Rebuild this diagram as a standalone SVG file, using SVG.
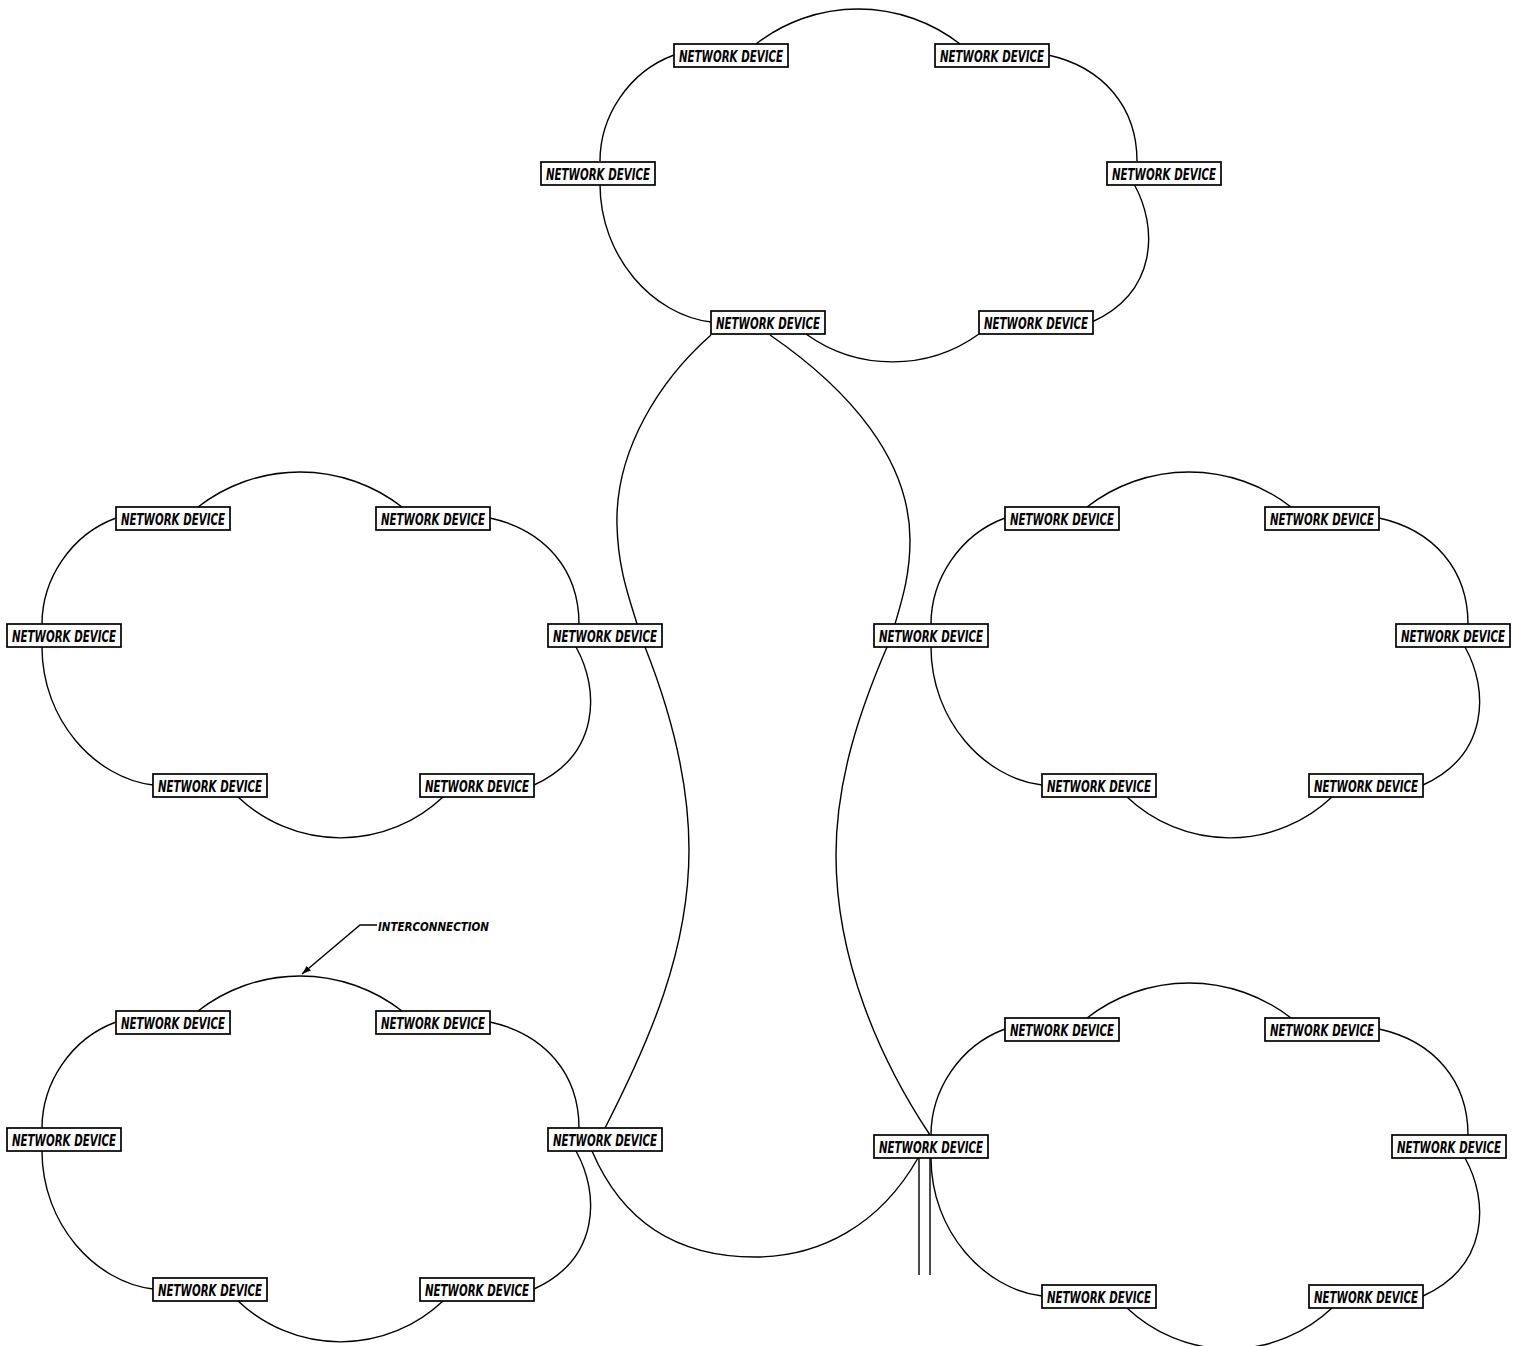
<svg xmlns="http://www.w3.org/2000/svg" xmlns:xlink="http://www.w3.org/1999/xlink" width="1517" height="1346" viewBox="0 0 1517 1346">
  <defs>
    <style>
      .ring { fill: none; stroke: #000; stroke-width: 1.4; }
      .box rect { fill: #fff; stroke: #000; stroke-width: 1.7; }
      .box text { font-family: "Liberation Sans Narrow", "DejaVu Sans Condensed", "Liberation Sans", sans-serif; font-size: 15px; font-style: italic; font-weight: bold; text-anchor: middle; fill: #000; }
      .callout { font-family: "Liberation Sans Narrow", "DejaVu Sans Condensed", "Liberation Sans", sans-serif; font-size: 13px; font-style: italic; font-weight: bold; fill: #000; }
    </style>
    <marker id="arrow" viewBox="0 0 10 10" refX="10" refY="5" markerWidth="9" markerHeight="9" markerUnits="userSpaceOnUse" orient="auto">
      <path d="M0,1.5 L10,5 L0,8.5 z" fill="#000"/>
    </marker>
    <!-- ring of six devices: side and top arcs (bottom arc drawn per ring) -->
    <path id="ring-arcs" d="M198,507 A166,166 0 0 1 402,507
      M490,518 C545,530 579,570 579,624
      M576,647 C600,690 600,755 534,785
      M153,785 C95,778 42,720 42,647
      M42,624 C42,580 70,535 116,518"/>
    <path id="ring-bottom" d="M443,797 A149,149 0 0 1 238,797"/>
  </defs>

  <rect width="1517" height="1346" fill="#fff"/>

  <!-- connectors: ring links and inter-ring links -->
  <g id="connectors" class="ring">
    <!-- top ring -->
    <use xlink:href="#ring-arcs" href="#ring-arcs" transform="translate(558,-463)"/>
    <path d="M979,334 A148,148 0 0 1 806,334"/>
    <!-- middle left ring -->
    <use xlink:href="#ring-arcs" href="#ring-arcs"/>
    <use xlink:href="#ring-bottom" href="#ring-bottom"/>
    <!-- middle right ring -->
    <use xlink:href="#ring-arcs" href="#ring-arcs" transform="translate(889,0)"/>
    <use xlink:href="#ring-bottom" href="#ring-bottom" transform="translate(889,0)"/>
    <!-- lower left ring -->
    <use xlink:href="#ring-arcs" href="#ring-arcs" transform="translate(0,504)"/>
    <use xlink:href="#ring-bottom" href="#ring-bottom" transform="translate(0,504)"/>
    <!-- lower right ring -->
    <use xlink:href="#ring-arcs" href="#ring-arcs" transform="translate(889,511)"/>
    <use xlink:href="#ring-bottom" href="#ring-bottom" transform="translate(889,511)"/>

    <!-- inter-ring links -->
    <path d="M711,335 C660,380 615,450 617,525 C618,570 630,600 637,624"/>
    <path d="M645,647 C670,710 689,780 689,850 C689,950 650,1040 605,1128"/>
    <path d="M770,335 C850,390 910,460 910,540 C910,575 902,600 895,624"/>
    <path d="M887,647 C860,710 836,780 836,855 C836,960 880,1060 930,1135"/>
    <path d="M592,1151 C630,1240 700,1257 755,1257 C820,1257 880,1225 918,1158"/>
    <path d="M919,1158 V1275 M930,1158 V1275"/>

    <!-- callout leader -->
    <path d="M377,925 H360 L302,974" marker-end="url(#arrow)"/>
  </g>
  <text class="callout" x="378" y="931" textLength="111" lengthAdjust="spacingAndGlyphs">INTERCONNECTION</text>

  <!-- top ring devices -->
  <g id="t1" class="box" transform="translate(674,44)"><rect width="114" height="23"/><text x="57" y="18" textLength="104" lengthAdjust="spacingAndGlyphs">NETWORK DEVICE</text></g>
  <g id="t2" class="box" transform="translate(935,44)"><rect width="114" height="23"/><text x="57" y="18" textLength="104" lengthAdjust="spacingAndGlyphs">NETWORK DEVICE</text></g>
  <g id="t3" class="box" transform="translate(541,162)"><rect width="114" height="23"/><text x="57" y="18" textLength="104" lengthAdjust="spacingAndGlyphs">NETWORK DEVICE</text></g>
  <g id="t4" class="box" transform="translate(1107,162)"><rect width="114" height="23"/><text x="57" y="18" textLength="104" lengthAdjust="spacingAndGlyphs">NETWORK DEVICE</text></g>
  <g id="t5" class="box" transform="translate(711,311)"><rect width="114" height="23"/><text x="57" y="18" textLength="104" lengthAdjust="spacingAndGlyphs">NETWORK DEVICE</text></g>
  <g id="t6" class="box" transform="translate(979,311)"><rect width="114" height="23"/><text x="57" y="18" textLength="104" lengthAdjust="spacingAndGlyphs">NETWORK DEVICE</text></g>

  <!-- middle left ring devices -->
  <g id="a1" class="box" transform="translate(116,507)"><rect width="114" height="23"/><text x="57" y="18" textLength="104" lengthAdjust="spacingAndGlyphs">NETWORK DEVICE</text></g>
  <g id="a2" class="box" transform="translate(376,507)"><rect width="114" height="23"/><text x="57" y="18" textLength="104" lengthAdjust="spacingAndGlyphs">NETWORK DEVICE</text></g>
  <g id="a3" class="box" transform="translate(7,624)"><rect width="114" height="23"/><text x="57" y="18" textLength="104" lengthAdjust="spacingAndGlyphs">NETWORK DEVICE</text></g>
  <g id="a4" class="box" transform="translate(548,624)"><rect width="114" height="23"/><text x="57" y="18" textLength="104" lengthAdjust="spacingAndGlyphs">NETWORK DEVICE</text></g>
  <g id="a5" class="box" transform="translate(153,774)"><rect width="114" height="23"/><text x="57" y="18" textLength="104" lengthAdjust="spacingAndGlyphs">NETWORK DEVICE</text></g>
  <g id="a6" class="box" transform="translate(420,774)"><rect width="114" height="23"/><text x="57" y="18" textLength="104" lengthAdjust="spacingAndGlyphs">NETWORK DEVICE</text></g>

  <!-- middle right ring devices -->
  <g id="b1" class="box" transform="translate(1005,507)"><rect width="114" height="23"/><text x="57" y="18" textLength="104" lengthAdjust="spacingAndGlyphs">NETWORK DEVICE</text></g>
  <g id="b2" class="box" transform="translate(1265,507)"><rect width="114" height="23"/><text x="57" y="18" textLength="104" lengthAdjust="spacingAndGlyphs">NETWORK DEVICE</text></g>
  <g id="b3" class="box" transform="translate(874,624)"><rect width="114" height="23"/><text x="57" y="18" textLength="104" lengthAdjust="spacingAndGlyphs">NETWORK DEVICE</text></g>
  <g id="b4" class="box" transform="translate(1396,624)"><rect width="114" height="23"/><text x="57" y="18" textLength="104" lengthAdjust="spacingAndGlyphs">NETWORK DEVICE</text></g>
  <g id="b5" class="box" transform="translate(1042,774)"><rect width="114" height="23"/><text x="57" y="18" textLength="104" lengthAdjust="spacingAndGlyphs">NETWORK DEVICE</text></g>
  <g id="b6" class="box" transform="translate(1309,774)"><rect width="114" height="23"/><text x="57" y="18" textLength="104" lengthAdjust="spacingAndGlyphs">NETWORK DEVICE</text></g>

  <!-- lower left ring devices -->
  <g id="c1" class="box" transform="translate(116,1011)"><rect width="114" height="23"/><text x="57" y="18" textLength="104" lengthAdjust="spacingAndGlyphs">NETWORK DEVICE</text></g>
  <g id="c2" class="box" transform="translate(376,1011)"><rect width="114" height="23"/><text x="57" y="18" textLength="104" lengthAdjust="spacingAndGlyphs">NETWORK DEVICE</text></g>
  <g id="c3" class="box" transform="translate(7,1128)"><rect width="114" height="23"/><text x="57" y="18" textLength="104" lengthAdjust="spacingAndGlyphs">NETWORK DEVICE</text></g>
  <g id="c4" class="box" transform="translate(548,1128)"><rect width="114" height="23"/><text x="57" y="18" textLength="104" lengthAdjust="spacingAndGlyphs">NETWORK DEVICE</text></g>
  <g id="c5" class="box" transform="translate(153,1278)"><rect width="114" height="23"/><text x="57" y="18" textLength="104" lengthAdjust="spacingAndGlyphs">NETWORK DEVICE</text></g>
  <g id="c6" class="box" transform="translate(420,1278)"><rect width="114" height="23"/><text x="57" y="18" textLength="104" lengthAdjust="spacingAndGlyphs">NETWORK DEVICE</text></g>

  <!-- lower right ring devices -->
  <g id="d1" class="box" transform="translate(1005,1018)"><rect width="114" height="23"/><text x="57" y="18" textLength="104" lengthAdjust="spacingAndGlyphs">NETWORK DEVICE</text></g>
  <g id="d2" class="box" transform="translate(1265,1018)"><rect width="114" height="23"/><text x="57" y="18" textLength="104" lengthAdjust="spacingAndGlyphs">NETWORK DEVICE</text></g>
  <g id="d3" class="box" transform="translate(874,1135)"><rect width="114" height="23"/><text x="57" y="18" textLength="104" lengthAdjust="spacingAndGlyphs">NETWORK DEVICE</text></g>
  <g id="d4" class="box" transform="translate(1392,1135)"><rect width="114" height="23"/><text x="57" y="18" textLength="104" lengthAdjust="spacingAndGlyphs">NETWORK DEVICE</text></g>
  <g id="d5" class="box" transform="translate(1042,1285)"><rect width="114" height="23"/><text x="57" y="18" textLength="104" lengthAdjust="spacingAndGlyphs">NETWORK DEVICE</text></g>
  <g id="d6" class="box" transform="translate(1309,1285)"><rect width="114" height="23"/><text x="57" y="18" textLength="104" lengthAdjust="spacingAndGlyphs">NETWORK DEVICE</text></g>
</svg>
